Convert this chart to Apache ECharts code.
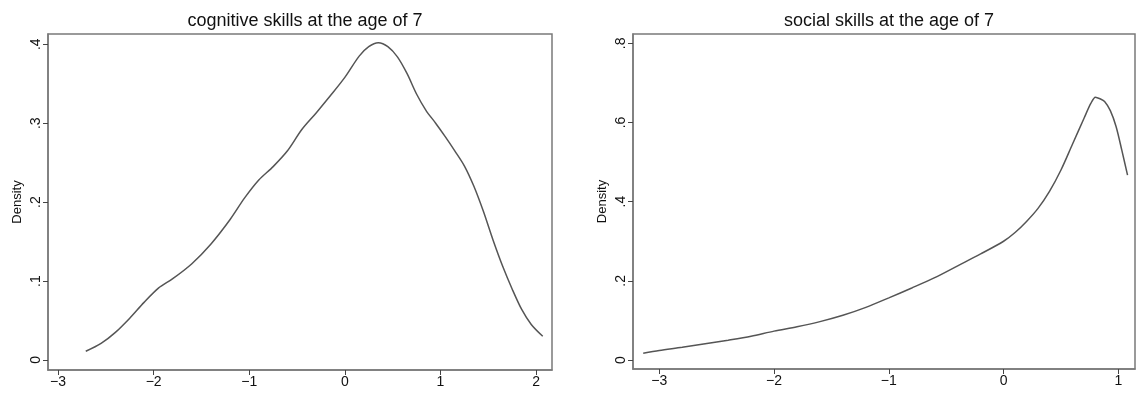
<!DOCTYPE html>
<html><head><meta charset="utf-8">
<script src="https://cdn.jsdelivr.net/npm/echarts@6/dist/echarts.min.js"></script>
<style>html,body{margin:0;padding:0;background:#fff}#c{width:1137px;height:394px}</style>
</head><body><div id="c"></div>
<script>
const titles = ["cognitive skills at the age of 7", "social skills at the age of 7"];
const yName = "Density";
const cogX = [-2.71,-2.55,-2.4,-2.25,-2.1,-1.95,-1.8,-1.6,-1.4,-1.2,-1.05,-0.9,-0.75,-0.6,-0.45,-0.3,-0.15,0.0,0.15,0.25,0.35,0.45,0.55,0.65,0.75,0.85,0.95,1.05,1.15,1.25,1.35,1.45,1.55,1.65,1.75,1.85,1.95,2.07];
const cogY = [0.011,0.021,0.035,0.053,0.073,0.091,0.103,0.122,0.147,0.178,0.205,0.228,0.245,0.265,0.292,0.313,0.335,0.358,0.385,0.397,0.402,0.397,0.384,0.363,0.337,0.316,0.300,0.283,0.265,0.246,0.220,0.188,0.152,0.119,0.090,0.064,0.045,0.030];
const socX = [-3.14,-3.0,-2.8,-2.6,-2.4,-2.2,-2.0,-1.8,-1.6,-1.4,-1.2,-1.0,-0.8,-0.6,-0.4,-0.2,0.0,0.1,0.2,0.3,0.4,0.5,0.6,0.7,0.76,0.8,0.84,0.88,0.93,0.98,1.03,1.08];
const socY = [0.017,0.024,0.032,0.041,0.050,0.060,0.073,0.084,0.097,0.113,0.133,0.157,0.182,0.208,0.238,0.268,0.300,0.322,0.350,0.383,0.426,0.480,0.545,0.610,0.648,0.664,0.660,0.653,0.630,0.590,0.530,0.467];
const cogXTicks = [-3,-2,-1,0,1,2];
const cogYTicks = [0,0.1,0.2,0.3,0.4];
const socXTicks = [-3,-2,-1,0,1];
const socYTicks = [0,0.2,0.4,0.6,0.8];

const fmtY = v => v === 0 ? '0' : String(+v.toFixed(1)).replace(/^0/, '');
const font = 'Liberation Sans, Arial, sans-serif';
const lineCol = '#7a7a7a';
function xAx(i, min, max, ticks){
  return {type:'value', gridIndex:i, min, max, splitLine:{show:false},
    axisLine:{show:true, onZero:false, lineStyle:{color:lineCol, width:1.5}},
    axisTick:{show:true, inside:false, length:5, lineStyle:{color:'#444', width:1}, customValues:ticks},
    axisLabel:{color:'#111', fontFamily:font, fontSize:14, margin:5, customValues:ticks, formatter:v=>String(v).replace('-','\u2212')}};
}
function yAx(i, min, max, ticks){
  return {type:'value', gridIndex:i, min, max, splitLine:{show:false},
    name:yName, nameLocation:'middle', nameGap:24, nameRotate:90,
    nameTextStyle:{color:'#111', fontFamily:font, fontSize:13},
    axisLine:{show:true, onZero:false, lineStyle:{color:lineCol, width:1.5}},
    axisTick:{show:true, inside:false, length:5, lineStyle:{color:'#444', width:1}, customValues:ticks},
    axisLabel:{color:'#111', fontFamily:font, fontSize:14, margin:5, rotate:90, customValues:ticks, formatter:fmtY}};
}
const chart = echarts.init(document.getElementById('c'), null, {renderer:'canvas'});
chart.setOption({
  animation:false,
  backgroundColor:'#fff',
  title:[
    {text:titles[0], left:300, top:7, textAlign:'center', textStyle:{fontFamily:font, fontSize:18, fontWeight:'normal', color:'#111'}},
    {text:titles[1], left:884, top:7, textAlign:'center', textStyle:{fontFamily:font, fontSize:18, fontWeight:'normal', color:'#111'}}
  ],
  grid:[
    {left:48, top:34, width:504, height:336, show:true, borderColor:lineCol, borderWidth:1.5, backgroundColor:'transparent'},
    {left:633, top:34, width:502, height:335, show:true, borderColor:lineCol, borderWidth:1.5, backgroundColor:'transparent'}
  ],
  xAxis:[xAx(0,-3.105,2.167,cogXTicks), xAx(1,-3.229,1.145,socXTicks)],
  yAxis:[yAx(0,-0.0127,0.413,cogYTicks), yAx(1,-0.0227,0.8235,socYTicks)],
  series:[
    {type:'line', xAxisIndex:0, yAxisIndex:0, data:cogX.map((x,i)=>[x,cogY[i]]), smooth:0.3, showSymbol:false, lineStyle:{color:'#555', width:1.5}},
    {type:'line', xAxisIndex:1, yAxisIndex:1, data:socX.map((x,i)=>[x,socY[i]]), smooth:0.3, showSymbol:false, lineStyle:{color:'#555', width:1.5}}
  ]
});
</script></body></html>
